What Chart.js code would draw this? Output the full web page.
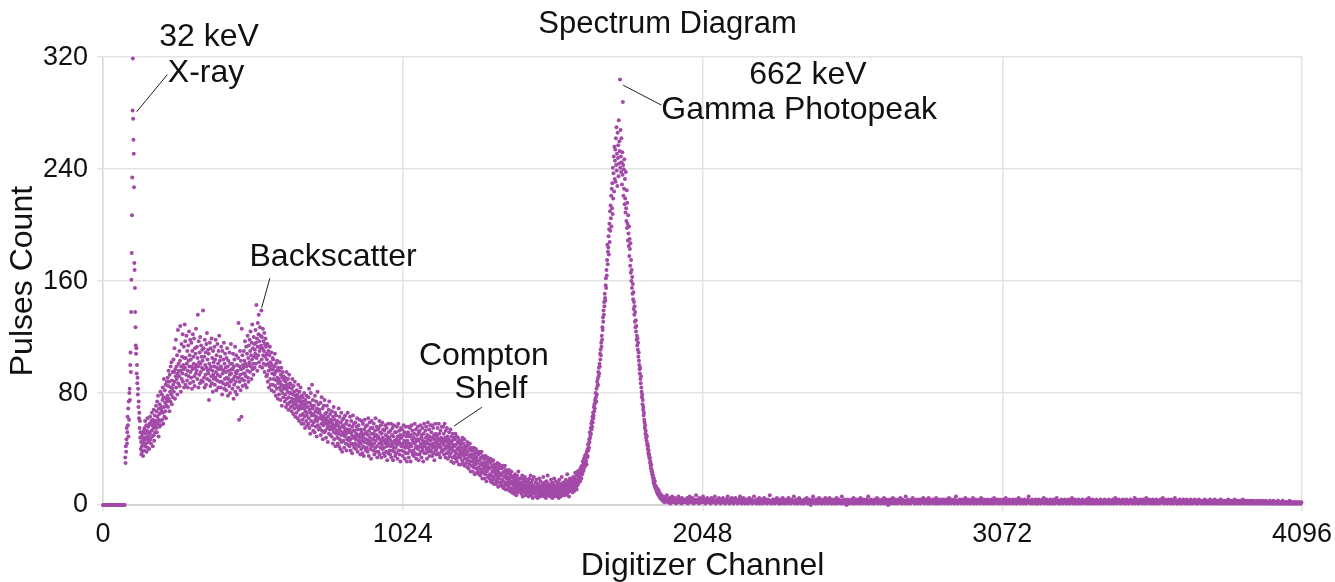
<!DOCTYPE html>
<html>
<head>
<meta charset="utf-8">
<title>Spectrum Diagram</title>
<script src="https://cdn.jsdelivr.net/npm/chart.js@4.4.1/dist/chart.umd.min.js"></script>
<style>
  html, body { margin: 0; padding: 0; background: #fff; }
  #wrap { width: 1335px; height: 582px; }
</style>
</head>
<body>
<div id="wrap"><canvas id="chart"></canvas></div>
<script>
const xTicks = [0, 1024, 2048, 3072, 4096];
const yTicks = [0, 80, 160, 240, 320];

// pulse counts per digitizer channel, split by region of the spectrum
const baselineCounts = [
  0,0,0,0,0,0,0,0,0,0,0,0,0,0,0,0,0,0,0,0,0,0,0,0,0,0,0,0,0,0,0,0,0,0,0,0,0,0
];
const xrayCounts = [
  34,30,42,38,47,55,44,52,63,57,69,49,74,61,80,83,75,100,109,95,
  138,161,180,207,234,282,319,276,261,251,227,173,168,155,138,127,114,108,112,94,
  100,87,91,79,83,70,74,62,66,55,60,48,52,40,45,36,49,42,38,51,
  44,35,47,53
];
const humpCounts = [
  46,39,55,48,60,42,51,44,57,38,53,47,62,41,49,56,45,52,40,58,
  51,63,47,58,44,60,53,66,49,57,42,61,55,68,50,46,59,64,52,57,
  60,71,55,67,52,74,63,58,78,61,49,69,65,56,72,60,81,57,66,70,
  68,79,61,75,84,66,58,77,90,70,63,82,73,67,86,62,76,71,88,74,
  78,91,70,85,96,76,88,67,93,81,74,99,84,79,102,72,89,83,95,77,
  86,104,81,95,112,88,76,97,92,118,84,99,90,107,79,94,125,87,101,96,
  92,110,85,103,128,96,81,99,115,90,106,94,122,88,100,97,113,84,105,129,
  98,117,86,105,93,121,101,89,110,96,84,114,103,92,124,99,107,87,118,95,
  104,91,116,99,83,110,97,122,88,106,101,119,92,85,112,98,108,94,126,100,
  96,113,90,105,136,99,84,117,102,93,109,87,120,101,95,114,89,106,98,111,
  103,88,139,97,112,91,106,84,118,100,93,109,86,115,98,123,90,104,96,111,
  94,108,75,101,89,116,97,85,112,99,92,119,87,105,96,81,110,93,102,90,
  99,113,86,104,91,118,95,82,107,98,89,115,93,101,84,110,97,121,88,103,
  92,106,84,99,113,88,97,79,110,94,87,104,96,116,83,101,90,108,86,98,
  95,82,105,91,112,87,99,78,103,90,96,85,109,93,80,101,88,115,94,97,
  89,101,83,97,108,90,76,99,86,104,92,113,81,95,88,107,94,79,100,91,
  96,84,105,130,91,61,99,88,110,93,82,103,97,63,126,90,107,85,100,94,
  98,110,89,103,94,117,86,101,92,113,99,84,108,96,121,91,105,88,114,100,
  102,118,95,110,124,99,107,90,116,104,129,97,112,101,93,120,106,115,98,111,
  108,125,101,116,143,105,119,96,113,130,107,122,136,102,117,110,127,99,121,112,
  114,139,104,120,98,112,126,107,117,101,110,123,95,115,106,119,100,113,92,108,
  104,93,115,88,101,110,96,84,107,99,113,90,102,86,97,109,82,100,94,105,
  97,86,104,90,81,99,93,108,85,95,78,101,89,96,83,103,91,76,98,87,
  90,79,96,84,102,88,75,93,82,98,86,71,91,80,95,85,77,92,83,89,
  85,74,91,79,88,70,83,95,76,86,72,81,90,68,84,77,93,73,80,87,
  80,70,86,74,67,83,76,90,71,79,65,85,73,81,69,88,75,63,78,72,
  76,66,82,70,79,62,74,86,68,77,60,81,71,75,64,84,69,73,58,78,
  71,61,77,65,74,58,69,80,63,72,55,75,67,70,60,78,64,66,57,73
];
const comptonCounts = [
  70,58,77,62,83,55,68,73,51,66,80,60,71,64,86,57,69,75,53,65,
  59,71,64,52,78,61,67,56,74,63,49,69,60,81,57,66,72,54,62,68,
  66,55,62,73,50,64,58,77,53,61,69,47,63,57,71,60,52,75,59,65,
  53,62,48,66,58,71,55,60,45,63,57,68,51,74,59,54,65,50,61,56,
  60,49,67,54,58,44,63,56,70,52,47,61,55,66,42,57,64,51,59,53,
  48,60,44,57,51,69,42,55,63,47,53,40,59,50,66,45,56,38,61,52,
  57,46,62,50,41,55,49,64,53,44,58,51,39,60,47,54,66,43,52,48,
  46,57,42,54,63,47,39,52,60,44,50,37,56,48,64,43,53,58,41,49,
  53,44,59,47,40,51,56,43,62,49,38,54,46,57,42,50,61,45,48,36,
  44,54,40,52,60,46,37,50,58,42,48,35,54,45,61,41,51,56,39,47,
  52,41,57,44,38,50,62,46,35,53,43,59,48,40,55,45,33,51,60,42,
  43,55,47,39,51,58,44,36,49,53,41,62,46,38,50,56,42,34,48,54,
  49,38,55,44,60,36,47,52,41,57,45,34,51,43,59,40,48,54,37,46,
  41,53,46,35,57,44,50,38,47,55,42,32,49,45,58,37,52,43,48,39,
  47,36,53,42,58,34,45,50,39,55,43,32,49,41,57,38,46,52,35,44,
  41,52,37,47,56,43,33,49,45,58,39,46,53,36,44,50,31,48,55,42,
  48,39,54,44,35,50,42,57,38,46,52,33,45,41,56,37,49,43,31,51,
  46,37,52,41,56,34,44,49,39,55,43,31,50,42,57,38,47,53,36,45,
  39,48,35,51,44,58,37,45,41,54,33,47,42,50,36,56,40,46,32,52,
  47,36,53,42,57,38,44,50,34,48,41,55,39,46,31,51,43,58,37,45,
  42,53,37,48,56,40,45,33,50,44,59,38,47,41,54,35,49,43,57,39,
  46,38,52,43,57,35,48,41,55,37,44,50,32,47,42,58,39,51,45,36,
  40,49,44,55,37,47,42,58,36,51,43,46,34,53,41,48,38,56,45,39,
  47,39,56,43,51,36,45,58,40,48,34,53,42,46,37,55,41,49,33,44,
  38,47,42,52,35,45,40,54,37,44,31,49,41,46,34,51,39,43,30,48,
  42,35,47,38,51,33,43,37,49,31,40,45,34,48,36,41,29,46,39,44,
  34,43,38,29,46,36,41,32,48,37,30,44,39,35,47,28,42,33,40,36,
  37,30,42,33,45,27,38,32,43,26,35,40,29,44,31,36,24,41,34,39,
  28,36,31,24,39,33,27,41,30,35,22,37,29,32,40,26,34,23,38,30,
  31,24,36,27,38,22,32,26,37,21,29,34,23,38,25,30,19,35,28,33,
  23,30,26,19,33,27,22,35,25,29,17,31,24,28,34,20,27,32,21,26,
  26,19,30,22,33,17,27,21,31,16,24,28,18,32,20,25,15,29,23,27,
  18,25,21,15,28,22,17,30,20,24,13,26,19,23,29,16,22,27,14,21,
  22,15,26,18,28,13,23,17,27,12,20,24,14,28,16,21,11,25,19,23,
  14,20,16,11,23,18,13,25,15,19,10,22,17,21,12,24,16,9,20,15
];
const valleyCounts = [
  17,11,20,14,8,18,13,22,10,16,12,19,7,15,21,13,9,17,14,24,11,16,19,12,15,
  10,16,12,19,8,14,11,21,13,6,15,18,10,13,17,9,20,12,14,7,16,11,18,13,9,
  14,9,17,11,6,13,19,10,15,8,12,21,11,7,16,13,10,18,5,12,14,9,20,11,13,
  8,13,10,16,6,12,18,9,11,14,5,10,15,12,7,19,11,9,13,6,17,10,12,8,14,
  12,7,15,10,20,9,13,6,11,16,8,12,14,5,10,17,9,13,11,21,7,12,15,10,8,
  13,9,6,14,11,18,8,12,10,16,5,13,9,15,11,7,19,12,10,14,6,11,17,9,12,
  10,14,7,12,16,9,13,5,11,18,10,8,15,12,6,14,11,20,9,13,7,12,16,10,14,
  12,16,9,14,7,13,18,11,15,8,12,22,10,14,9,17,12,6,15,11,19,13,10,16,12,
  15,11,18,13,9,16,20,12,17,14,10,19,15,23,12,16,13,21,11,17,14,24,18,15,19,
  16,22,18,25,20,17,24,21,27,19,23,28,22,26,31,24,29,25,33,27,30,35,28,32,36
];
const photopeakCounts = [
  31,36,29,38,34,40,35,43,39,44,
  41,47,45,52,48,50,55,51,58,54,
  60,56,63,59,66,62,64,70,67,72,
  69,75,73,80,77,74,83,79,88,85,
  90,86,95,92,98,94,101,99,108,104,
  111,107,116,113,121,118,127,125,134,131,
  139,136,145,142,151,148,146,157,162,155,
  168,164,175,186,172,181,184,192,179,197,
  201,188,210,196,214,205,221,199,226,212,
  230,208,241,219,237,249,224,256,233,246,
  254,231,262,243,270,239,251,228,266,248,
  257,235,275,244,260,253,304,241,268,249,
  238,262,245,229,252,236,288,243,221,240,
  226,247,215,233,219,209,238,212,203,225,
  198,216,201,189,207,194,185,199,178,190,
  183,171,187,166,175,160,168,155,163,151,
  158,147,152,140,145,136,142,131,138,127,
  132,124,128,118,121,114,119,111,116,106,
  109,103,100,97,94,98,90,87,92,84,
  81,77,79,72,75,68,70,64,66,61,
  59,55,57,51,53,48,50,46,49,43,
  44,40,42,37,39,35,36,33,34,30,
  31,28,26,29,24,25,22,23,20,21,
  18,16,19,15,14,17,13,14,12,13,
  11,10,12,9,10,8,11,9,7,10,
  8,6,7,5,8,6,5,7,4,6
];
const tailCounts = [
  5,3,6,4,2,5,3,4,7,3,2,4,5,3,1,4,3,6,2,3,4,2,5,3,1,3,4,2,6,3,2,4,3,1,5,2,3,4,2,3,
  2,4,3,5,1,3,2,6,3,4,2,3,5,2,1,4,3,2,7,3,4,2,3,1,5,3,2,4,3,2,6,4,2,3,1,4,3,5,2,3,
  4,2,3,1,5,3,2,4,2,3,6,2,1,3,4,2,3,5,2,4,1,3,2,3,5,2,4,3,1,2,4,3,6,2,3,1,4,2,3,5,
  2,3,1,4,2,5,3,2,3,1,4,2,3,6,2,4,1,3,2,5,3,2,1,4,3,2,4,1,3,5,2,3,2,4,1,3,2,6,3,2,
  3,1,4,2,3,2,5,1,3,4,2,3,1,2,5,3,2,4,2,1,3,4,2,3,7,2,1,3,2,4,3,2,1,4,3,2,5,2,3,1,
  2,4,3,1,2,3,5,2,4,1,3,2,3,4,1,2,5,3,2,3,1,4,2,3,2,6,3,1,2,4,3,2,1,3,5,2,4,2,1,3,
  3,2,1,4,2,3,2,5,3,1,2,4,3,2,0,3,4,2,6,3,2,1,3,4,2,3,1,2,5,3,2,4,1,3,2,3,4,2,1,5,
  2,3,4,1,3,2,5,2,3,1,4,2,3,2,1,4,3,2,5,1,3,2,4,3,2,1,3,6,2,3,1,4,2,3,2,0,3,4,2,3,
  1,3,2,4,2,3,1,5,2,3,4,1,2,3,2,4,3,1,2,5,3,2,1,3,4,2,3,2,1,4,3,2,6,1,3,2,4,2,3,1,
  3,2,4,1,3,2,3,5,2,1,4,3,2,3,1,2,4,3,2,5,1,3,2,4,2,3,0,3,2,4,3,1,2,3,5,2,3,1,4,2,
  2,3,1,4,3,2,2,5,3,1,2,4,3,2,1,3,6,2,3,1,4,2,3,2,1,3,4,2,5,3,2,1,3,2,4,3,1,2,3,4,
  3,1,2,4,2,3,5,2,1,3,4,2,3,2,1,5,3,2,4,1,3,2,3,4,2,1,3,2,5,3,1,2,4,3,2,3,1,4,2,3,
  2,4,1,3,2,3,4,2,1,3,5,2,3,1,2,4,3,2,3,1,4,2,6,3,2,1,3,2,4,3,2,1,3,4,2,3,1,2,5,2,
  3,2,1,4,3,2,3,1,2,4,3,5,2,1,3,2,4,3,1,2,3,2,4,1,3,5,2,3,2,1,4,3,2,3,1,2,4,2,3,1,
  2,3,4,2,1,3,2,5,3,1,2,3,4,2,3,1,2,4,3,2,1,3,2,4,3,2,1,5,3,2,3,1,2,4,2,3,1,3,2,4,
  3,1,2,3,4,2,1,3,2,5,3,2,1,4,3,2,3,1,2,4,3,2,1,3,2,4,6,2,3,1,2,3,4,2,1,3,2,3,4,1,
  2,3,1,4,2,3,2,1,3,4,2,3,5,1,2,3,2,4,1,3,2,3,1,4,2,3,2,1,3,4,2,1,3,2,5,2,3,1,2,3,
  1,2,4,3,2,1,3,2,4,2,3,1,2,3,4,2,1,3,2,3,5,2,1,3,2,4,3,1,2,3,2,4,1,3,2,3,1,2,4,2,
  3,2,1,3,2,4,2,1,3,5,2,3,1,2,3,4,2,1,3,2,3,1,4,2,3,2,1,3,2,4,3,1,2,3,2,1,4,3,2,3,
  2,1,3,4,2,3,1,2,3,2,4,1,3,2,5,3,2,1,3,2,4,2,3,1,2,3,2,4,3,1,2,3,1,4,2,3,2,1,3,2,
  4,2,3,1,2,3,2,5,1,3,2,4,3,2,1,3,2,4,2,3,1,2,4,3,2,1,3,5,2,3,2,1,4,2,3,2,1,3,4,2,
  3,1,2,3,4,2,1,3,2,3,1,4,2,3,2,5,3,1,2,4,3,2,1,3,2,4,3,2,1,3,4,2,3,1,2,3,5,2,3,1,
  2,3,1,2,4,3,2,1,3,2,4,2,3,1,3,2,4,1,2,3,2,1,3,4,2,3,1,2,3,2,4,3,1,2,3,1,2,4,2,3,
  2,1,3,2,2,3,1,4,2,3,1,2,3,2,1,3,4,2,1,3,2,3,1,2,4,2,3,1,2,3,2,1,3,2,4,1,2,3,2,1,
  3,2,1,2,3,1,2,4,2,1,3,2,1,3,2,2,1,3,4,2,1,2,3,1,2,3,2,1,3,2,1,2,4,2,1,3,2,1,2,3,
  1,2,2,3,1,2,1,3,2,1,2,3,1,2,2,1,3,2,1,2,1,3,2,2,1,2,3,1,2,1,2,3,1,2,1,2,2,1,3,1,
  2,1,2,1,3,1,2,2,1,2,1,2,3,1,2,1,1,2,2,1,3,1,2,1,2,1,2,2,1,1,2,1,3,1,2,1,1,2,1,2,
  1,2,1,1,2,1,2,1,1,2,1,1,2
];

// [first channel, channel step, counts]
const regions = [
  [0, 2, baselineCounts],
  [76, 1, xrayCounts],
  [140, 1, humpCounts],
  [700, 1, comptonCounts],
  [1400, 1, valleyCounts],
  [1650, 1, photopeakCounts],
  [1910, 2, tailCounts]
];

// callout text: [text, channel, count] for the text centre
const noteTexts = [
  ['32 keV', 362, 334],
  ['X-ray', 352, 308.6],
  ['Backscatter', 786, 177],
  ['Compton', 1301, 106.4],
  ['Shelf', 1325, 82.9],
  ['662 keV', 2408, 307],
  ['Gamma Photopeak', 2378, 282]
];
// leader lines: [channel, count, channel, count]
const noteLeaders = [
  [115, 281, 220, 307.6],
  [542, 141, 570, 162],
  [1199, 56.4, 1294, 69.8],
  [1777, 300, 1908, 285.7]
];

const points = [];
regions.forEach(([start, step, counts]) => {
  counts.forEach((c, i) => points.push({ x: start + i * step, y: c }));
});

const FONT = '"Liberation Sans", Arial, sans-serif';

const notesPlugin = {
  id: 'notes',
  afterDatasetsDraw(chart) {
    const ctx = chart.ctx;
    const xs = chart.scales.x, ys = chart.scales.y;
    ctx.save();
    ctx.strokeStyle = '#222';
    ctx.lineWidth = 1;
    noteLeaders.forEach(([x1, y1, x2, y2]) => {
      ctx.beginPath();
      ctx.moveTo(xs.getPixelForValue(x1), ys.getPixelForValue(y1));
      ctx.lineTo(xs.getPixelForValue(x2), ys.getPixelForValue(y2));
      ctx.stroke();
    });
    ctx.fillStyle = '#111';
    ctx.font = '32px ' + FONT;
    ctx.textAlign = 'center';
    ctx.textBaseline = 'middle';
    noteTexts.forEach(([text, x, y]) => {
      ctx.fillText(text, xs.getPixelForValue(x), ys.getPixelForValue(y));
    });
    ctx.restore();
  }
};

new Chart(document.getElementById('chart'), {
  type: 'scatter',
  data: {
    datasets: [{
      label: 'Pulses',
      data: points,
      backgroundColor: '#a34aa8',
      borderWidth: 0,
      pointRadius: 2,
      pointHoverRadius: 2,
      clip: false
    }]
  },
  options: {
    responsive: true,
    maintainAspectRatio: false,
    animation: false,
    events: [],
    layout: { padding: 0 },
    plugins: {
      legend: { display: false },
      tooltip: { enabled: false },
      title: {
        display: true,
        text: 'Spectrum Diagram',
        color: '#111',
        font: { family: FONT, size: 31, weight: 'normal' },
        padding: { top: 6, bottom: 14 }
      }
    },
    scales: {
      x: {
        type: 'linear',
        min: xTicks[0],
        max: xTicks[xTicks.length - 1],
        afterBuildTicks: s => { s.ticks = xTicks.map(v => ({ value: v })); },
        afterFit: s => { s.height = 77; s.paddingRight = 33; },
        grid: { color: '#e4e4e4', lineWidth: 1.5, tickLength: 6 },
        border: { color: '#d2d2d2', width: 2 },
        ticks: {
          color: '#111',
          font: { family: FONT, size: 27 },
          padding: 7,
          maxRotation: 0,
          callback: v => String(v)
        },
        title: {
          display: true,
          text: 'Digitizer Channel',
          color: '#111',
          font: { family: FONT, size: 32 },
          padding: { top: 0, bottom: -3 }
        }
      },
      y: {
        min: yTicks[0],
        max: yTicks[yTicks.length - 1],
        afterBuildTicks: s => { s.ticks = yTicks.map(v => ({ value: v })); },
        afterFit: s => { s.width = 103; },
        grid: { color: '#e4e4e4', lineWidth: 1.5, tickLength: 6 },
        border: { color: '#dcdcdc', width: 1.5 },
        ticks: { color: '#111', font: { family: FONT, size: 27 }, padding: 9 },
        title: {
          display: true,
          text: 'Pulses Count',
          color: '#111',
          font: { family: FONT, size: 32 },
          padding: { top: 4, bottom: 0 }
        }
      }
    }
  },
  plugins: [notesPlugin]
});
</script>
</body>
</html>
